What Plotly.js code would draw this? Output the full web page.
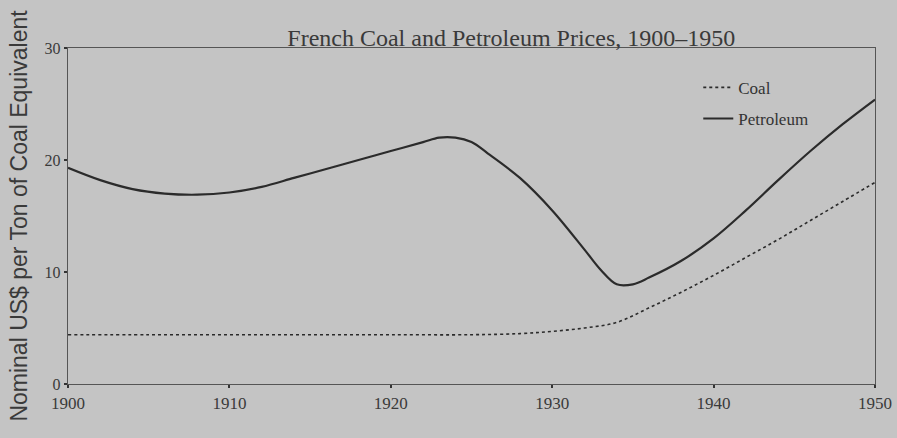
<!DOCTYPE html>
<html>
<head>
<meta charset="utf-8">
<script src="https://cdn.plot.ly/plotly-3.0.1.min.js"></script>
<style>html,body{margin:0;padding:0;background:#c4c4c4;}</style>
</head>
<body>
<div id="chart" style="width:897px;height:438px;"></div>
<script>
const petroleumYears = [1900,1902,1904,1906,1908,1910,1912,1914,1916,1918,1920,1922,1923,1924,1925,1926,1928,1930,1932,1933,1934,1935,1936,1938,1940,1942,1944,1946,1948,1950];
const petroleumPrices = [19.3,18.2,17.4,17.0,16.9,17.1,17.6,18.4,19.2,20.0,20.8,21.6,22.0,22.0,21.6,20.6,18.4,15.5,12.0,10.2,8.9,8.9,9.5,11.0,13.0,15.5,18.2,20.8,23.2,25.4];
const coalYears = [1900,1905,1910,1915,1920,1925,1928,1930,1932,1934,1936,1938,1940,1942,1944,1946,1948,1950];
const coalPrices = [4.4,4.4,4.4,4.4,4.4,4.4,4.5,4.7,5.0,5.5,6.8,8.2,9.7,11.3,12.9,14.6,16.3,18.0];
const xTicks = [1900,1910,1920,1930,1940,1950];
const yTicks = [0,10,20,30];

const serif = '"Liberation Serif", "DejaVu Serif", serif';
const lineCol = '#2b2b2b';

const traces = [
  {x: coalYears, y: coalPrices, name: 'Coal', mode: 'lines', legendgroup: 'coal',
   line: {color: lineCol, width: 1.6, dash: 'dot', shape: 'spline'}},
  {x: petroleumYears, y: petroleumPrices, name: 'Petroleum', mode: 'lines', legendgroup: 'petroleum',
   line: {color: lineCol, width: 2.2, shape: 'spline'}}
];

const layout = {
  width: 897, height: 438,
  paper_bgcolor: '#c4c4c4', plot_bgcolor: '#c4c4c4',
  margin: {l: 68, r: 22, t: 48, b: 54},
  title: {text: 'French Coal and Petroleum Prices, 1900–1950', x: 0.57, xanchor: 'center', y: 0.915, yanchor: 'middle',
          font: {family: serif, size: 24, color: '#3a3a3a'}},
  showlegend: true,
  legend: {x: 0.781, y: 0.935, xanchor: 'left', yanchor: 'top', bgcolor: 'rgba(0,0,0,0)',
           font: {family: serif, size: 17, color: '#333'}, tracegroupgap: 6},
  xaxis: {range: [1900, 1950], tickvals: xTicks, ticktext: xTicks.map(String),
          showgrid: false, zeroline: false, showline: true, linecolor: '#555', linewidth: 1.3, mirror: true,
          ticks: 'outside', ticklen: 3, tickcolor: '#333', tickwidth: 2,
          tickfont: {family: serif, size: 17, color: '#3a3a3a'}},
  yaxis: {range: [0, 30], tickvals: yTicks, ticktext: yTicks.map(String),
          showgrid: false, zeroline: false, showline: true, linecolor: '#555', linewidth: 1.3, mirror: true,
          ticks: 'outside', ticklen: 3, tickcolor: '#333', tickwidth: 2,
          tickfont: {family: serif, size: 16, color: '#3a3a3a'},
          title: {text: 'Nominal US$ per Ton of Coal Equivalent', standoff: 10,
                  font: {family: '"Liberation Sans", Arial, sans-serif', size: 23, color: '#3a3a3a'}}}
};

Plotly.newPlot('chart', traces, layout, {displayModeBar: false, staticPlot: true});
</script>
</body>
</html>
